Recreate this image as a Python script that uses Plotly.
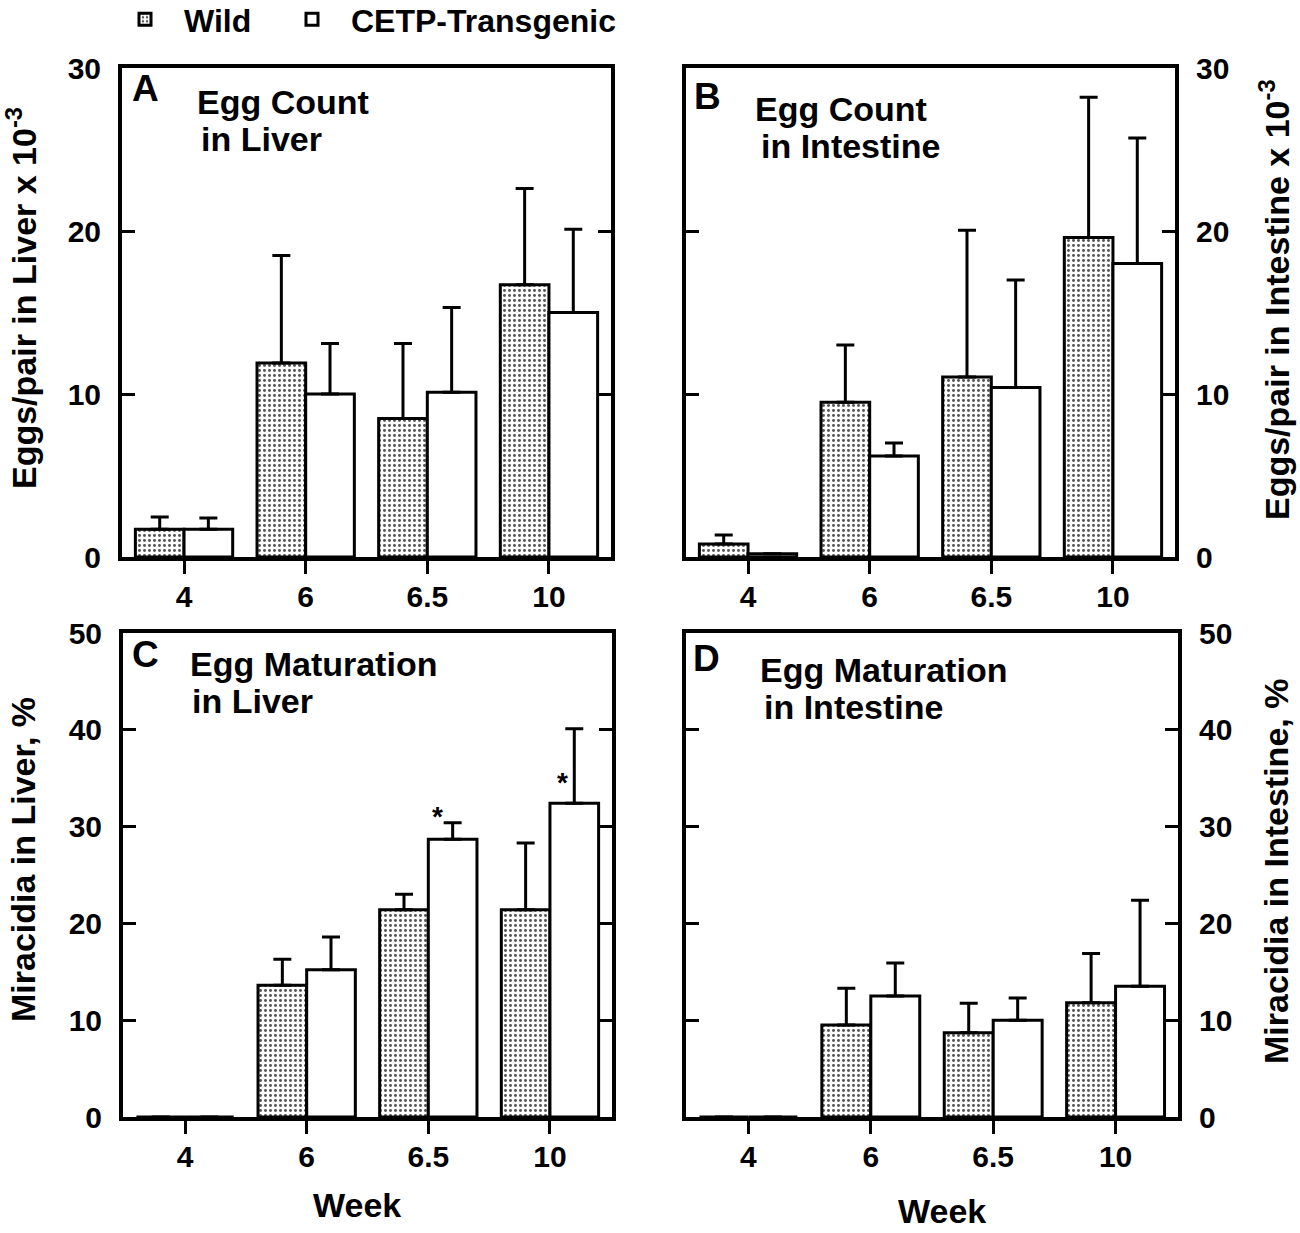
import plotly.graph_objects as go

# ---------------- data ----------------
weeks = ["4", "6", "6.5", "10"]

liver_count_wild = [1.7, 11.9, 8.5, 16.7]
liver_count_wild_err = [0.75, 6.6, 4.6, 5.9]
liver_count_cetp = [1.7, 10.0, 10.1, 15.0]
liver_count_cetp_err = [0.7, 3.1, 5.2, 5.1]

intest_count_wild = [0.8, 9.5, 11.05, 19.6]
intest_count_wild_err = [0.55, 3.5, 9.0, 8.6]
intest_count_cetp = [0.2, 6.2, 10.4, 18.0]
intest_count_cetp_err = [0.0, 0.8, 6.6, 7.7]

liver_mat_wild = [0, 13.6, 21.4, 21.4]
liver_mat_wild_err = [0, 2.7, 1.6, 6.9]
liver_mat_cetp = [0, 15.2, 28.7, 32.4]
liver_mat_cetp_err = [0, 3.4, 1.7, 7.7]

intest_mat_wild = [0, 9.5, 8.7, 11.8]
intest_mat_wild_err = [0, 3.8, 3.05, 5.1]
intest_mat_cetp = [0, 12.5, 10.0, 13.5]
intest_mat_cetp_err = [0, 3.4, 2.3, 8.9]

star_weeks = ["6.5", "10"]
star_y = [31.0, 34.6]

W, H = 1300, 1233
FONT = "Liberation Sans"


def px(x):
    return x / W


def py(y):
    return 1 - y / H


fig = go.Figure()

panels = [
    ("x", "y", liver_count_wild, liver_count_wild_err, liver_count_cetp, liver_count_cetp_err),
    ("x2", "y2", intest_count_wild, intest_count_wild_err, intest_count_cetp, intest_count_cetp_err),
    ("x3", "y3", liver_mat_wild, liver_mat_wild_err, liver_mat_cetp, liver_mat_cetp_err),
    ("x4", "y4", intest_mat_wild, intest_mat_wild_err, intest_mat_cetp, intest_mat_cetp_err),
]

for i, (xa, ya, wv, we, cv, ce) in enumerate(panels):
    fig.add_trace(go.Bar(
        x=weeks, y=wv, xaxis=xa, yaxis=ya, name="Wild", legendgroup="wild",
        showlegend=(i == 0), legend="legend",
        marker=dict(color="white", line=dict(color="black", width=3),
                    pattern=dict(shape=".", fgcolor="#555555", bgcolor="white",
                                 size=5, solidity=0.28)),
        error_y=dict(type="data", symmetric=False, array=we, arrayminus=[0] * len(we),
                     color="black", thickness=3, width=9),
    ))
    fig.add_trace(go.Bar(
        x=weeks, y=cv, xaxis=xa, yaxis=ya, name="CETP-Transgenic", legendgroup="cetp",
        showlegend=(i == 0), legend="legend2",
        marker=dict(color="white", line=dict(color="black", width=3)),
        error_y=dict(type="data", symmetric=False, array=ce, arrayminus=[0] * len(ce),
                     color="black", thickness=3, width=9),
    ))

tickfont = dict(family=FONT, size=30, color="black", weight="bold")

xcommon = dict(type="category", range=[-0.51, 3.51], showline=True, linewidth=4,
               linecolor="black", mirror=True, ticks="outside", ticklen=13,
               tickwidth=3, tickcolor="black", tickfont=tickfont, showgrid=False,
               zeroline=False, fixedrange=True, ticklabelstandoff=-3, automargin=False)


def ycommon(rng, side):
    return dict(range=rng, tickvals=list(range(0, rng[1] + 1, 10)), showline=True,
                linewidth=4, linecolor="black", mirror="ticks", ticks="inside",
                ticklen=13, tickwidth=3, tickcolor="black", tickfont=tickfont,
                showgrid=False, zeroline=False, side=side, ticklabelstandoff=11,
                automargin=False, fixedrange=True)


dA = dict(x=[px(122), px(611)], y=[py(557), py(68)])
dB = dict(x=[px(686), px(1175)], y=[py(557), py(68)])
dC = dict(x=[px(123), px(612)], y=[py(1117), py(633)])
dD = dict(x=[px(686), px(1178)], y=[py(1117), py(633)])

fig.update_layout(
    template="none",
    xaxis=dict(domain=dA["x"], anchor="y", **xcommon),
    yaxis=dict(domain=dA["y"], anchor="x", **ycommon([0, 30], "left")),
    xaxis2=dict(domain=dB["x"], anchor="y2", **xcommon),
    yaxis2=dict(domain=dB["y"], anchor="x2", **ycommon([0, 30], "right")),
    xaxis3=dict(domain=dC["x"], anchor="y3", **xcommon),
    yaxis3=dict(domain=dC["y"], anchor="x3", **ycommon([0, 50], "left")),
    xaxis4=dict(domain=dD["x"], anchor="y4", **xcommon),
    yaxis4=dict(domain=dD["y"], anchor="x4", **ycommon([0, 50], "right")),
)

annotations = []


def txt(text, x, y, size, xanchor="left", angle=0):
    annotations.append(dict(
        text=text, x=px(x), y=py(y), xref="paper", yref="paper", showarrow=False,
        xanchor=xanchor, yanchor="middle", textangle=angle,
        font=dict(family=FONT, size=size, color="black", weight="bold"),
    ))


# panel letters
txt("A", 130, 89, 37)
txt("B", 692, 96, 37)
txt("C", 130, 654, 37)
txt("D", 691, 658, 37)

# panel titles
txt("Egg Count", 195, 102, 34)
txt("in Liver", 199, 139, 34)
txt("Egg Count", 753, 109, 34)
txt("in Intestine", 759, 146, 34)
txt("Egg Maturation", 188, 664, 34)
txt("in Liver", 190, 701, 34)
txt("Egg Maturation", 758, 670, 34)
txt("in Intestine", 762, 707, 34)

# axis titles
txt("Eggs/pair in Liver x 10<sup>-3</sup>", 22, 298, 34, "center", -90)
txt("Eggs/pair in Intestine x 10<sup>-3</sup>", 1274, 300, 34, "center", -90)
txt("Miracidia in Liver, %", 23, 860, 34, "center", -90)
txt("Miracidia in Intestine, %", 1276, 872, 34, "center", -90)

# x titles
txt("Week", 357, 1205, 34, "center")
txt("Week", 942, 1211, 34, "center")

# significance stars (category index positions on panel C)
for wk, sy, sh in zip(star_weeks, star_y, [9, 13]):
    annotations.append(dict(
        text="*", x=weeks.index(wk), y=sy, xref="x3", yref="y3", showarrow=False,
        xshift=sh, xanchor="center", yanchor="middle",
        font=dict(family=FONT, size=28, color="black", weight="bold"),
    ))

legfont = dict(family=FONT, size=32, color="black", weight="bold")
leg_y = 1 + 8 / H

fig.update_layout(
    width=W, height=H, margin=dict(l=0, r=0, t=0, b=0, autoexpand=False),
    paper_bgcolor="white", plot_bgcolor="white",
    barmode="group", bargap=0.2, bargroupgap=0,
    annotations=annotations,
    showlegend=True,
    legend=dict(orientation="h", x=px(106), y=leg_y, xanchor="left", yanchor="top",
                font=legfont, itemwidth=68, bgcolor="rgba(0,0,0,0)"),
    legend2=dict(orientation="h", x=px(273), y=leg_y, xanchor="left", yanchor="top",
                 font=legfont, itemwidth=68, bgcolor="rgba(0,0,0,0)"),
)

fig.write_html("out.html", config={"displayModeBar": False},
               post_script="document.body.style.margin='0';")
